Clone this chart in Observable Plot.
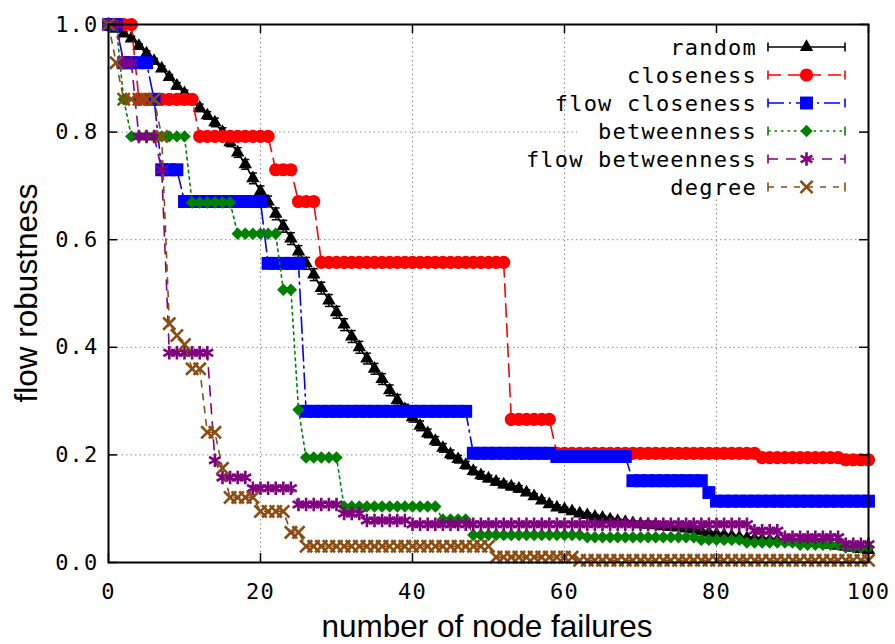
<!DOCTYPE html>
<html><head><meta charset="utf-8">
<script src="https://cdn.jsdelivr.net/npm/d3@7"></script>
<script src="https://cdn.jsdelivr.net/npm/@observablehq/plot@0.6"></script>
<style>
body{margin:0;background:#fff;}
#chart svg{display:block;}
#chart svg text{letter-spacing:1.2px;}
</style></head><body><div id="chart"></div>
<script>
// x values: number of node failures
const failures = d3.range(0, 101);
const xTicks = [0, 20, 40, 60, 80, 100];
const yTicks = [0, 0.2, 0.4, 0.6, 0.8, 1.0];
const seriesNames = ["random", "closeness", "flow closeness", "betweenness", "flow betweenness", "degree"];

const random = [
  1.000,0.992,0.983,0.974,0.960,0.946,0.932,0.918,0.902,0.886,
  0.872,0.858,0.845,0.831,0.818,0.800,0.781,0.762,0.740,0.714,
  0.690,0.671,0.648,0.625,0.602,0.578,0.556,0.535,0.510,0.487,
  0.465,0.442,0.420,0.400,0.379,0.360,0.341,0.320,0.302,0.285,
  0.270,0.254,0.240,0.226,0.213,0.201,0.192,0.181,0.170,0.162,
  0.156,0.150,0.145,0.141,0.137,0.130,0.123,0.115,0.108,0.102,
  0.099,0.095,0.091,0.088,0.085,0.083,0.080,0.077,0.075,0.073,
  0.071,0.070,0.069,0.067,0.066,0.065,0.063,0.061,0.058,0.055,
  0.053,0.051,0.049,0.047,0.045,0.044,0.043,0.042,0.041,0.040,
  0.039,0.038,0.037,0.036,0.035,0.033,0.031,0.029,0.027,0.025,
  0.023];
const randomErr = [
  0.000,0.004,0.004,0.004,0.004,0.005,0.005,0.005,0.005,0.006,
  0.006,0.007,0.007,0.007,0.008,0.008,0.008,0.009,0.009,0.010,
  0.010,0.010,0.011,0.011,0.011,0.011,0.011,0.011,0.011,0.011,
  0.011,0.011,0.011,0.011,0.010,0.010,0.010,0.010,0.010,0.009,
  0.009,0.009,0.008,0.008,0.008,0.008,0.007,0.007,0.007,0.007,
  0.006,0.006,0.006,0.006,0.006,0.005,0.005,0.005,0.005,0.005,
  0.004,0.004,0.004,0.004,0.004,0.004,0.004,0.004,0.004,0.004,
  0.003,0.003,0.003,0.003,0.003,0.003,0.003,0.003,0.003,0.003,
  0.003,0.003,0.003,0.003,0.003,0.003,0.003,0.003,0.003,0.003,
  0.003,0.003,0.003,0.003,0.003,0.003,0.003,0.003,0.003,0.003,
  0.003];
const closeness = [
  1,1,1,1,0.861,0.861,0.861,0.861,0.861,0.861,
  0.861,0.861,0.792,0.792,0.792,0.792,0.792,0.792,0.792,0.792,
  0.792,0.792,0.730,0.730,0.730,0.671,0.671,0.671,0.558,0.558,
  0.558,0.558,0.558,0.558,0.558,0.558,0.558,0.558,0.558,0.558,
  0.558,0.558,0.558,0.558,0.558,0.558,0.558,0.558,0.558,0.558,
  0.558,0.558,0.558,0.266,0.266,0.266,0.266,0.266,0.266,0.203,
  0.203,0.203,0.203,0.203,0.203,0.203,0.203,0.203,0.203,0.203,
  0.203,0.203,0.203,0.203,0.203,0.203,0.203,0.203,0.203,0.203,
  0.203,0.203,0.203,0.203,0.203,0.203,0.195,0.195,0.195,0.195,
  0.195,0.195,0.195,0.195,0.195,0.195,0.195,0.191,0.191,0.191,
  0.191];
const flowCloseness = [
  1,1,0.929,0.929,0.929,0.929,0.861,0.730,0.730,0.730,
  0.671,0.671,0.671,0.671,0.671,0.671,0.671,0.671,0.671,0.671,
  0.671,0.556,0.556,0.556,0.556,0.556,0.281,0.281,0.281,0.281,
  0.281,0.281,0.281,0.281,0.281,0.281,0.281,0.281,0.281,0.281,
  0.281,0.281,0.281,0.281,0.281,0.281,0.281,0.281,0.203,0.203,
  0.203,0.203,0.203,0.203,0.203,0.203,0.203,0.203,0.203,0.197,
  0.197,0.197,0.197,0.197,0.197,0.197,0.197,0.197,0.197,0.152,
  0.152,0.152,0.152,0.152,0.152,0.152,0.152,0.152,0.152,0.130,
  0.114,0.114,0.114,0.114,0.114,0.114,0.114,0.114,0.114,0.114,
  0.114,0.114,0.114,0.114,0.114,0.114,0.114,0.114,0.114,0.114,
  0.114];
const betweenness = [
  1,1,0.861,0.792,0.792,0.792,0.792,0.792,0.792,0.792,
  0.792,0.669,0.669,0.669,0.669,0.669,0.669,0.611,0.611,0.611,
  0.611,0.611,0.611,0.507,0.507,0.284,0.195,0.195,0.195,0.195,
  0.195,0.104,0.104,0.104,0.104,0.104,0.104,0.104,0.104,0.104,
  0.104,0.104,0.104,0.104,0.080,0.080,0.080,0.080,0.051,0.051,
  0.051,0.051,0.051,0.051,0.051,0.051,0.051,0.051,0.051,0.051,
  0.051,0.051,0.051,0.047,0.047,0.047,0.047,0.047,0.047,0.047,
  0.047,0.047,0.047,0.047,0.047,0.047,0.047,0.047,0.042,0.042,
  0.042,0.042,0.042,0.042,0.037,0.037,0.037,0.037,0.037,0.037,
  0.037,0.033,0.033,0.033,0.033,0.033,0.033,0.028,0.028,0.028,
  0.028];
const flowBetweenness = [
  1,1,0.929,0.929,0.792,0.792,0.792,0.730,0.390,0.390,
  0.390,0.390,0.390,0.390,0.190,0.158,0.158,0.158,0.158,0.138,
  0.138,0.138,0.138,0.138,0.138,0.108,0.108,0.108,0.108,0.108,
  0.108,0.091,0.091,0.091,0.078,0.078,0.078,0.078,0.078,0.078,
  0.071,0.071,0.071,0.071,0.071,0.071,0.071,0.071,0.071,0.071,
  0.071,0.071,0.071,0.071,0.071,0.071,0.071,0.071,0.071,0.071,
  0.071,0.071,0.071,0.071,0.071,0.071,0.071,0.071,0.071,0.071,
  0.071,0.071,0.071,0.071,0.071,0.071,0.071,0.071,0.071,0.071,
  0.071,0.071,0.071,0.071,0.071,0.059,0.059,0.059,0.059,0.047,
  0.047,0.047,0.047,0.047,0.047,0.047,0.047,0.034,0.034,0.034,
  0.034];
const degree = [
  1,0.929,0.861,0.861,0.861,0.861,0.861,0.792,0.444,0.422,
  0.405,0.360,0.360,0.242,0.242,0.175,0.121,0.121,0.121,0.121,
  0.095,0.095,0.095,0.095,0.056,0.056,0.030,0.030,0.030,0.030,
  0.030,0.030,0.030,0.030,0.030,0.030,0.030,0.030,0.030,0.030,
  0.030,0.030,0.030,0.030,0.030,0.030,0.030,0.030,0.030,0.030,
  0.030,0.010,0.010,0.010,0.010,0.010,0.010,0.010,0.010,0.010,
  0.010,0.010,0.004,0.004,0.004,0.004,0.004,0.004,0.004,0.004,
  0.004,0.004,0.004,0.004,0.004,0.004,0.004,0.004,0.004,0.004,
  0.004,0.004,0.004,0.004,0.004,0.004,0.004,0.004,0.004,0.004,
  0.004,0.004,0.004,0.004,0.004,0.004,0.004,0.004,0.004,0.004,
  0.004];

// ---- styles ----
const styles = [
  {values: random,          color: "#000000", dash: null,         symbol: "triangle", r: 5.0, filled: true},
  {values: closeness,       color: "#ff0000", dash: "13,7",       symbol: "circle",   r: 6.6, filled: true},
  {values: flowCloseness,   color: "#0000ff", dash: "16,5,2,5",   symbol: "square",   r: 7.3, filled: true},
  {values: betweenness,     color: "#008000", dash: "2.5,4",      symbol: "diamond2", r: 5.6, filled: true},
  {values: flowBetweenness, color: "#800080", dash: "10,8",       symbol: "asterisk", r: 6.4, filled: false},
  {values: degree,          color: "#8b4c12", dash: "6,7",        symbol: "times",    r: 5.6, filled: false}
];

const W = 895, H = 644, ML = 108, MR = 27, MT = 24, MB = 82;
const plotW = W - ML - MR, plotH = H - MT - MB;
const TICK = 9;

const capSymbol = {
  draw(context, size) {
    const w = Math.sqrt(size / Math.PI);
    context.moveTo(-w, 0);
    context.lineTo(w, 0);
  }
};

const randomRows = failures.map((x, i) => ({x, y: random[i], e: randomErr[i]}));

const seriesMarks = [];
styles.forEach((s, k) => {
  const rows = failures.map((x, i) => ({x, y: s.values[i]}));
  seriesMarks.push(Plot.line(rows, {x: "x", y: "y", stroke: s.color, strokeWidth: 1.6, strokeDasharray: s.dash || undefined}));
  if (k === 0) {
    seriesMarks.push(Plot.ruleX(randomRows, {x: "x", y1: d => d.y - d.e, y2: d => d.y + d.e, stroke: "black", strokeWidth: 1.5}));
    seriesMarks.push(Plot.dot(randomRows, {x: "x", y: d => d.y + d.e, symbol: capSymbol, r: 4, stroke: "black", fill: "none", strokeWidth: 1.5}));
    seriesMarks.push(Plot.dot(randomRows, {x: "x", y: d => d.y - d.e, symbol: capSymbol, r: 4, stroke: "black", fill: "none", strokeWidth: 1.5}));
  }
  seriesMarks.push(Plot.dot(rows, s.filled
    ? {x: "x", y: "y", symbol: s.symbol, r: s.r, fill: s.color, stroke: "none"}
    : {x: "x", y: "y", symbol: s.symbol, r: s.r, fill: "none", stroke: s.color, strokeWidth: 2.6}));
});

const chart = Plot.plot({
  width: W, height: H,
  marginLeft: ML, marginRight: MR, marginTop: MT, marginBottom: MB,
  style: {fontFamily: '"DejaVu Sans Mono", monospace', fontSize: "22px", background: "white", color: "black", overflow: "visible"},
  x: {domain: [0, 100], label: null},
  y: {domain: [0, 1], label: null},
  marks: [
    Plot.gridX(xTicks.filter(t => t > 0 && t < 100), {stroke: "#8a8a8a", strokeOpacity: 1, strokeWidth: 1, strokeDasharray: "1.5,3"}),
    Plot.gridY(yTicks.filter(t => t > 0 && t < 1), {stroke: "#8a8a8a", strokeOpacity: 1, strokeWidth: 1, strokeDasharray: "1.5,3"}),
    ...seriesMarks,
    Plot.ruleX(xTicks, {x: d => d, insetTop: plotH - TICK, stroke: "black", strokeWidth: 1.5}),
    Plot.ruleX(xTicks, {x: d => d, insetBottom: plotH - TICK, stroke: "black", strokeWidth: 1.5}),
    Plot.ruleY(yTicks, {y: d => d, insetRight: plotW - TICK, stroke: "black", strokeWidth: 1.5}),
    Plot.ruleY(yTicks, {y: d => d, insetLeft: plotW - TICK, stroke: "black", strokeWidth: 1.5}),
    Plot.frame({stroke: "black", strokeWidth: 2}),
    Plot.axisX(xTicks, {tickSize: 0, tickPadding: 21, label: null, tickFormat: d => String(d)}),
    Plot.axisY(yTicks, {tickSize: 0, tickPadding: 10, label: null, tickFormat: d3.format(".1f")})
  ]
});
document.getElementById("chart").appendChild(chart);

const svg = d3.select(chart);

// legend background (above grid, below data/ticks)
const gridNode = svg.select('g[aria-label="y-grid"]').node();
const bg = document.createElementNS("http://www.w3.org/2000/svg", "rect");
bg.setAttribute("x", 577); bg.setAttribute("y", MT + 2);
bg.setAttribute("width", ML + plotW - 577 - 1); bg.setAttribute("height", 198 - MT - 2);
bg.setAttribute("fill", "white");
if (gridNode) gridNode.after(bg); else chart.insertBefore(bg, chart.firstChild);

// axis titles
svg.append("text")
  .attr("x", ML + plotW / 2 - 1).attr("y", 637)
  .attr("text-anchor", "middle")
  .style("font-family", '"Liberation Sans", Arial, sans-serif')
  .style("font-size", "31.5px").style("letter-spacing", "0px")
  .text("number of node failures");
svg.append("text")
  .attr("transform", `translate(37,${MT + plotH / 2}) rotate(-90)`)
  .attr("text-anchor", "middle")
  .style("font-family", '"Liberation Sans", Arial, sans-serif')
  .style("font-size", "31.5px").style("letter-spacing", "0px")
  .text("flow robustness");

// legend
const symMap = {triangle: d3.symbolTriangle, circle: d3.symbolCircle, square: d3.symbolSquare,
  diamond2: d3.symbolDiamond2, asterisk: d3.symbolAsterisk, times: d3.symbolTimes};
const lg = svg.append("g");
const lx0 = 768, lx1 = 845, lmid = 806.5, textRight = 757, row0 = 47, rowH = 28;
seriesNames.forEach((name, k) => {
  const s = styles[k];
  const y = row0 + k * rowH;
  lg.append("text").attr("x", textRight).attr("y", y).attr("dy", "0.35em")
    .attr("text-anchor", "end")
    .style("font-family", '"DejaVu Sans Mono", monospace').style("font-size", "22px")
    .text(name);
  lg.append("line").attr("x1", lx0).attr("x2", lx1).attr("y1", y).attr("y2", y)
    .attr("stroke", s.color).attr("stroke-width", 1.6)
    .attr("stroke-dasharray", s.dash || null);
  [lx0, lx1].forEach(cx => lg.append("line").attr("x1", cx).attr("x2", cx)
    .attr("y1", y - 4.5).attr("y2", y + 4.5).attr("stroke", s.color).attr("stroke-width", 1.6));
  lg.append("path")
    .attr("transform", `translate(${lmid},${y})`)
    .attr("d", d3.symbol(symMap[s.symbol], Math.PI * s.r * s.r)())
    .attr("fill", s.filled ? s.color : "none")
    .attr("stroke", s.filled ? "none" : s.color)
    .attr("stroke-width", s.filled ? null : 2.6);
});
</script></body></html>
